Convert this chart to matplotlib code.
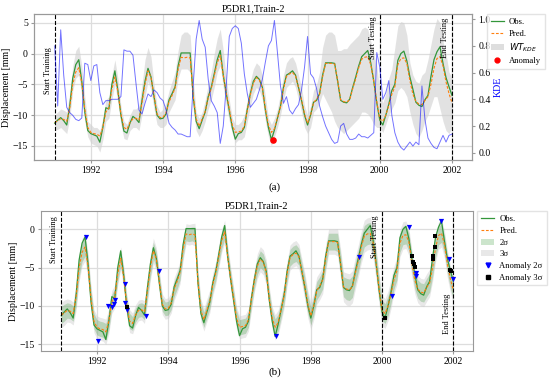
import numpy as np
import matplotlib
matplotlib.use("Agg")
import matplotlib.pyplot as plt
from matplotlib.lines import Line2D
from matplotlib.patches import Patch

plt.rcParams['font.family'] = 'serif'
plt.rcParams['font.serif'] = ['Liberation Serif', 'DejaVu Serif']

# monthly series, Jan 1991 .. Jan 2002
obs = [-11.3, -10.8, -10.4, -10.9, -11.6, -8.5, -4.0, -1.8, -1.0, -4.5, -9.5, -12.5,
       -13.0, -13.2, -13.4, -14.4, -12.0, -8.8, -9.0, -5.0, -2.8, -6.0, -10.0, -12.6,
       -12.9, -11.3, -10.2, -10.6, -11.2, -7.6, -4.5, -2.4, -3.8, -7.0, -10.0, -10.6,
       -10.5, -9.8, -7.5, -6.5, -5.4, -2.0, 0.1, 0.1, 0.1, 0.1, -7.0, -11.0,
       -12.2, -10.8, -9.5, -7.0, -5.5, -3.3, -1.0, 0.5, -3.5, -6.5, -9.2, -12.0,
       -13.9, -13.0, -12.8, -12.0, -9.0, -6.5, -4.5, -3.7, -4.2, -5.5, -9.2, -12.0,
       -14.0, -12.4, -10.5, -8.6, -5.5, -3.5, -3.2, -2.8, -3.5, -5.5, -7.6, -10.0,
       -11.6, -10.0, -7.9, -7.6, -6.5, -3.5, -1.5, -1.5, -1.5, -1.6, -4.5, -7.6,
       -7.9, -8.0, -7.4, -5.5, -3.8, -2.0, -0.5, 0.0, 0.5, -1.5, -4.5, -8.0,
       -10.8, -11.6, -10.0, -8.2, -6.0, -5.0, -1.1, 0.0, 0.4, -1.2, -3.8, -5.8,
       -7.9, -8.4, -8.6, -7.5, -6.8, -3.7, -1.0, 0.3, 1.1, -1.6, -3.9, -5.4,
       -6.8]
pred = [-11.2, -10.9, -10.6, -10.7, -11.0, -8.8, -5.0, -3.0, -2.3, -4.8, -9.0, -12.0,
        -12.8, -13.0, -13.1, -13.4, -12.0, -9.5, -8.8, -5.8, -3.8, -6.2, -9.8, -12.0,
        -12.3, -11.2, -10.6, -10.5, -10.8, -8.0, -5.0, -2.8, -3.9, -6.9, -9.8, -10.4,
        -10.3, -9.6, -7.8, -6.8, -5.6, -2.6, -0.6, -0.7, -0.6, -0.7, -6.8, -10.6,
        -11.8, -10.6, -9.4, -7.2, -5.7, -3.6, -1.5, -0.3, -3.5, -6.4, -9.0, -11.6,
        -12.8, -12.7, -12.6, -11.8, -9.2, -6.7, -4.8, -3.9, -4.3, -5.6, -9.0, -11.6,
        -12.8, -12.2, -10.5, -8.7, -5.8, -3.7, -3.3, -3.1, -3.6, -5.5, -7.5, -9.8,
        -11.3, -10.0, -8.0, -7.4, -6.6, -3.8, -1.6, -1.6, -1.6, -1.7, -4.4, -7.5,
        -7.8, -7.9, -7.5, -5.7, -4.1, -2.3, -0.9, -0.6, -0.5, -1.8, -4.5, -7.8,
        -10.6, -11.0, -10.0, -8.4, -6.6, -5.4, -1.8, -0.8, -0.7, -1.6, -4.4, -6.6,
        -7.8, -8.2, -8.3, -7.6, -7.0, -5.0, -2.4, -0.8, -0.5, -2.0, -4.6, -6.5,
        -8.0]
wt_upper = [-10.0, -9.5, -9.0, -9.2, -9.5, -6.5, -2.0, 0.5, 1.2, -2.0, -7.0, -11.0,
            -11.5, -12.0, -12.0, -12.5, -10.5, -7.5, -7.0, -3.5, -1.0, -4.0, -8.5, -11.0,
            -11.5, -10.0, -9.0, -9.0, -8.5, -5.0, -1.0, 1.0, -0.5, -5.0, -8.5, -9.5,
            -9.0, -8.0, -6.0, -4.5, -3.0, 0.5, 3.0, 3.5, 3.5, 3.0, -4.0, -9.5,
            -10.5, -9.5, -7.5, -5.0, -3.0, 0.0, 2.5, 4.0, 0.5, -4.0, -7.5, -10.5,
            -11.5, -11.5, -11.0, -10.0, -7.5, -4.5, -2.5, -1.5, -2.0, -3.5, -7.0, -10.5,
            -11.5, -10.5, -9.0, -6.5, -3.5, -1.5, -0.8, -0.5, -1.5, -3.5, -5.5, -8.5,
            -10.0, -8.5, -6.0, -5.0, -3.0, 1.0, 3.0, 3.5, 3.5, 3.0, 0.5, 0.5,
            0.8, 0.8, 1.5, 2.0, 2.5, 3.0, 4.0, 4.3, 4.0, 2.0, 0.0, -2.0,
            -6.0, -8.0, -6.5, -4.0, -2.5, 1.0, 4.5, 5.2, 5.0, 3.0, -1.5, -3.5,
            -4.5, -4.8, -3.5, -3.0, -1.0, 1.5, 4.0, 5.7, 5.0, 2.0, 0.0, -3.0,
            -4.0]
wt_lower = [-12.5, -12.3, -12.0, -12.5, -13.0, -10.5, -6.0, -4.0, -3.5, -7.0, -11.0, -13.5,
            -14.5, -14.8, -15.0, -16.0, -14.0, -11.0, -10.5, -7.5, -5.0, -8.0, -11.5, -13.8,
            -14.0, -12.5, -12.0, -12.0, -12.5, -10.0, -7.0, -4.5, -6.0, -9.0, -11.5, -12.0,
            -12.0, -11.5, -9.5, -8.5, -7.5, -4.0, -2.5, -2.5, -2.5, -3.0, -9.0, -12.5,
            -13.5, -12.5, -11.0, -9.0, -7.5, -5.5, -3.0, -2.0, -5.5, -8.5, -11.0, -13.0,
            -14.5, -14.0, -14.0, -13.5, -11.0, -8.5, -6.5, -5.5, -6.0, -7.5, -11.0, -13.5,
            -15.0, -13.5, -12.0, -10.0, -7.5, -5.5, -5.0, -4.5, -5.5, -7.5, -9.5, -12.0,
            -13.0, -12.0, -9.5, -9.0, -8.0, -6.5, -7.5, -8.5, -9.5, -11.0, -12.0, -12.5,
            -13.0, -12.5, -12.0, -11.5, -11.0, -10.5, -9.5, -9.5, -9.8, -10.5, -11.5, -12.0,
            -12.0, -12.8, -11.5, -10.0, -9.0, -8.0, -6.0, -5.5, -6.0, -7.0, -9.5, -11.5,
            -13.0, -13.6, -12.5, -11.0, -10.0, -8.5, -7.0, -7.0, -9.0, -11.0, -12.5, -13.0,
            -12.0]
kde = [0.80, 0.35, 0.92, 0.58, 0.34, 0.30, 0.28, 0.25, 0.24, 0.26, 0.67, 0.66,
       0.54, 0.65, 0.66, 0.45, 0.36, 0.39, 0.39, 0.40, 0.40, 0.40, 0.42, 0.77,
       0.76, 0.76, 0.73, 0.52, 0.32, 0.29, 0.37, 0.44, 0.42, 0.47, 0.45, 0.41,
       0.39, 0.32, 0.22, 0.19, 0.17, 0.14, 0.14, 0.13, 0.12, 0.12, 0.50, 0.85,
       0.99, 0.85, 0.79, 0.55, 0.39, 0.35, 0.30, 0.07, 0.20, 0.50, 0.87, 0.93,
       0.95, 0.93, 0.82, 0.59, 0.44, 0.34, 0.37, 0.40, 0.47, 0.55, 0.68, 0.80,
       0.84, 0.99, 0.75, 0.50, 0.37, 0.42, 0.32, 0.29, 0.33, 0.36, 0.47, 0.64,
       0.87, 0.59, 0.56, 0.48, 0.35, 0.27, 0.20, 0.15, 0.10, 0.07, 0.08, 0.20,
       0.22, 0.14, 0.10, 0.10, 0.11, 0.14, 0.12, 0.12, 0.11, 0.13, 0.15, 0.75,
       0.64, 0.40, 0.45, 0.54, 0.28, 0.15, 0.08, 0.04, 0.02, 0.05, 0.08, 0.05,
       0.08, 0.06, 0.50, 0.25, 0.11, 0.07, 0.04, 0.03, 0.08, 0.13, 0.08, 0.13,
       0.14]
sigma = [0.55, 0.55, 0.5, 0.5, 0.5, 0.6, 0.6, 0.6, 0.6, 0.6, 0.55, 0.5,
         0.5, 0.5, 0.5, 0.55, 0.55, 0.5, 0.5, 0.5, 0.5, 0.5, 0.5, 0.5,
         0.45, 0.45, 0.45, 0.45, 0.5, 0.55, 0.55, 0.55, 0.5, 0.5, 0.45, 0.45,
         0.45, 0.45, 0.5, 0.5, 0.5, 0.5, 0.45, 0.45, 0.45, 0.5, 0.55, 0.5,
         0.5, 0.5, 0.5, 0.5, 0.5, 0.5, 0.5, 0.5, 0.5, 0.5, 0.5, 0.5,
         0.5, 0.5, 0.5, 0.5, 0.5, 0.5, 0.55, 0.55, 0.55, 0.55, 0.5, 0.5,
         0.55, 0.55, 0.55, 0.55, 0.55, 0.55, 0.55, 0.55, 0.55, 0.55, 0.6, 0.6,
         0.6, 0.6, 0.6, 0.6, 0.6, 0.6, 0.55, 0.55, 0.55, 0.6, 0.65, 0.65,
         0.7, 0.7, 0.7, 0.7, 0.7, 0.7, 0.7, 0.7, 0.7, 0.7, 0.7, 0.7,
         0.65, 0.65, 0.65, 0.65, 0.6, 0.6, 0.6, 0.6, 0.6, 0.6, 0.6, 0.6,
         0.6, 0.6, 0.6, 0.6, 0.6, 0.6, 0.6, 0.6, 0.6, 0.6, 0.6, 0.6,
         0.6]
years = 1991 + np.arange(len(obs)) / 12.0

# anomalies
anom_kde_t = [1997.04]
anom_kde_v = [-14.1]
anom2_t = [1991.70, 1992.03, 1992.30, 1992.43, 1992.47, 1992.50, 1992.78, 1992.80, 1992.83,
           1993.38, 1993.75, 1997.03, 1999.36, 2000.28, 2000.75, 2000.94, 2000.96,
           2001.66, 2001.89, 2001.99]
anom2_v = [-0.96, -14.6, -10.0, -10.2, -9.8, -9.2, -7.1, -9.6, -10.6,
           -11.3, -5.5, -14.0, -3.66, -8.7, 0.35, -5.75, -6.06,
           1.1, -3.9, -6.5]
anom3_t = [1992.83, 2000.09, 2000.84, 2000.87, 2000.90, 2000.91, 2001.42, 2001.43, 2001.47,
           2001.49, 2001.90, 2001.93]
anom3_v = [-10.2, -11.6, -3.45, -4.2, -4.55, -4.95, -3.5, -3.9, -2.3,
           -0.9, -5.3, -5.45]

t_start_train = 1991.0
t_start_test = 2000.0
t_end_test = 2002.0

green = '#33963a'
orange = '#ff7f0e'
spine_c = '#999999'

fig = plt.figure(figsize=(5.5, 3.83), dpi=100)
ax1 = fig.add_axes([0.062, 0.582, 0.796, 0.381])
ax2 = fig.add_axes([0.0745, 0.0836, 0.7855, 0.3654])

def style(ax):
    ax.grid(True, color='#dddddd', lw=0.9)
    ax.set_axisbelow(True)
    for s in ax.spines.values():
        s.set_color(spine_c)
        s.set_linewidth(0.8)
    ax.tick_params(labelsize=7, length=2.5, color=spine_c, pad=2)
    ax.set_xlim(1990.43, 2002.55)
    ax.set_xticks([1992, 1994, 1996, 1998, 2000, 2002])

leg_kw = dict(loc='upper left', fontsize=6.2, frameon=True, fancybox=False,
              edgecolor='#dddddd', handlelength=1.5, handletextpad=0.6,
              borderpad=0.45, labelspacing=0.42, borderaxespad=0)

# ---- (a)
style(ax1)
ax1.fill_between(years, wt_lower, wt_upper, color='#d0d0d0', alpha=0.6, lw=0)
ax1.plot(years, obs, color=green, lw=0.9)
ax1.plot(years, pred, color=orange, lw=0.8, ls=(0, (2.5, 1.5)))
ax1.scatter(anom_kde_t, anom_kde_v, color='red', s=14, zorder=5)
ax1.set_ylim(-17.3, 6.4)
ax1.set_yticks([5, 0, -5, -10, -15])
ax1.set_ylabel('Displacement [mm]', fontsize=7.2, labelpad=1)
ax1.set_title('P5DR1,Train-2', fontsize=7.5, pad=2)
for t in [t_start_train, t_start_test, t_end_test]:
    ax1.axvline(t, color='black', ls='--', lw=0.8)
ax1.text(t_start_train - 0.08, -2.7, 'Start Training', rotation=90, ha='right', va='center', fontsize=6)
ax1.text(t_start_test - 0.08, 2.6, 'Start Testing', rotation=90, ha='right', va='center', fontsize=6)
ax1.text(t_end_test - 0.08, 2.6, 'End Testing', rotation=90, ha='right', va='center', fontsize=6)

ax1r = ax1.twinx()
ax1r.plot(years, kde, color='blue', lw=0.7, alpha=0.55)
ax1r.set_ylim(-0.055, 1.037)
ax1r.set_yticks([0.0, 0.2, 0.4, 0.6, 0.8, 1.0])
ax1r.set_ylabel('KDE', color='blue', fontsize=7.2, labelpad=2)
for s in ax1r.spines.values():
    s.set_color(spine_c)
    s.set_linewidth(0.8)
ax1r.tick_params(labelsize=7, length=2.5, color=spine_c, pad=2)

h1 = [Line2D([], [], color=green, lw=0.9),
      Line2D([], [], color=orange, lw=0.8, ls=(0, (2.5, 1.5))),
      Patch(facecolor='#d0d0d0', alpha=0.7),
      Line2D([], [], marker='o', color='red', ls='', markersize=3.5)]
fig.legend(h1, ['Obs.', 'Pred.', r'$WT_{KDE}$', 'Anomaly'],
           bbox_to_anchor=(0.885, 0.963), **leg_kw)
fig.text(0.5, 0.51, '(a)', ha='center', va='center', fontsize=8)

# ---- (b)
style(ax2)
p = np.array(pred)
s = np.array(sigma)
ax2.fill_between(years, p - 3 * s, p + 3 * s, color='#cccccc', alpha=0.45, lw=0)
ax2.fill_between(years, p - 2 * s, p + 2 * s, color='green', alpha=0.2, lw=0)
ax2.plot(years, obs, color=green, lw=0.9)
ax2.plot(years, pred, color=orange, lw=0.8, ls=(0, (2.5, 1.5)))
ax2.scatter(anom2_t, anom2_v, marker='v', color='blue', s=14, zorder=5, lw=0)
ax2.scatter(anom3_t, anom3_v, marker='s', color='black', s=12, zorder=5, lw=0)
ax2.set_ylim(-15.9, 2.4)
ax2.set_yticks([0, -5, -10, -15])
ax2.set_ylabel('Displacement [mm]', fontsize=7.2, labelpad=1)
ax2.set_title('P5DR1,Train-2', fontsize=7.5, pad=2)
for t in [t_start_train, t_start_test, t_end_test]:
    ax2.axvline(t, color='black', ls='--', lw=0.8)
ax2.text(t_start_train - 0.08, -1.4, 'Start Training', rotation=90, ha='right', va='center', fontsize=6)
ax2.text(t_start_test - 0.08, -1.0, 'Start Testing', rotation=90, ha='right', va='center', fontsize=6)
ax2.text(t_end_test - 0.08, -11.0, 'End Testing', rotation=90, ha='right', va='center', fontsize=6)

h2 = [Line2D([], [], color=green, lw=0.9),
      Line2D([], [], color=orange, lw=0.8, ls=(0, (2.5, 1.5))),
      Patch(facecolor='green', alpha=0.2),
      Patch(facecolor='#cccccc', alpha=0.45),
      Line2D([], [], marker='v', color='blue', ls='', markersize=3.5),
      Line2D([], [], marker='s', color='black', ls='', markersize=3.2)]
fig.legend(h2, ['Obs.', 'Pred.', '2σ', '3σ', 'Anomaly 2σ', 'Anomaly 3σ'],
           bbox_to_anchor=(0.868, 0.448), **leg_kw)
fig.text(0.5, 0.027, '(b)', ha='center', va='center', fontsize=8)

fig.savefig('out.png', dpi=100)
